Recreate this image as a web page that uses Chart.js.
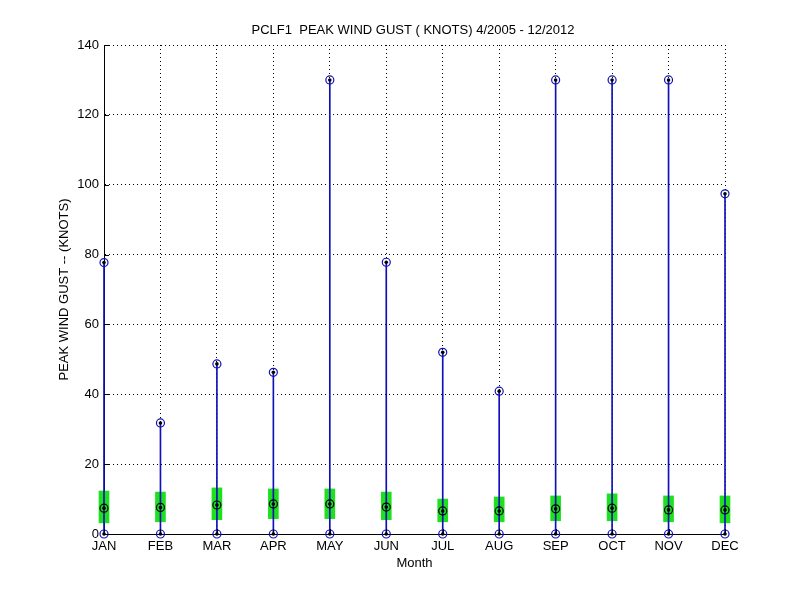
<!DOCTYPE html>
<html>
<head>
<meta charset="utf-8">
<script src="https://cdn.jsdelivr.net/npm/chart.js@4"></script>
<style>
  body { margin: 0; background: #fff; }
  #wrap { width: 800px; height: 600px; }
</style>
</head>
<body>
<div id="wrap"><canvas id="gust-chart" width="800" height="600"></canvas></div>
<script>
// monthly peak wind gust stats, knots
const months = ['JAN', 'FEB', 'MAR', 'APR', 'MAY', 'JUN', 'JUL', 'AUG', 'SEP', 'OCT', 'NOV', 'DEC']
const maxGust = [77.7, 31.8, 48.7, 46.3, 130, 77.8, 52.0, 40.9, 130, 130, 130, 97.4]
const minGust = [0, 0, 0, 0, 0, 0, 0, 0, 0, 0, 0, 0]
const meanGust = [7.4, 7.6, 8.3, 8.6, 8.6, 7.7, 6.6, 6.6, 7.2, 7.4, 6.9, 6.9]
const boxHigh = [12.3, 12.0, 13.2, 12.9, 12.9, 12.0, 10.0, 10.6, 10.9, 11.5, 10.9, 10.9]
const boxLow = [3.2, 3.5, 4.1, 4.4, 4.4, 4.1, 3.5, 3.5, 3.8, 3.8, 3.5, 3.2]
const yTicks = [0, 20, 40, 60, 80, 100, 120, 140]

const lineBlue = '#1010b8'
const boxGreen = '#1fe01f'

const boxData = months.map((m, i) => ({ x: i, y: [boxLow[i], boxHigh[i]] }))
const rangeData = months.map((m, i) => ({ x: i, y: [minGust[i], maxGust[i]] }))
const extremeData = []
months.forEach((m, i) => {
  extremeData.push({ x: i, y: minGust[i] })
  extremeData.push({ x: i, y: maxGust[i] })
})
const meanData = months.map((m, i) => ({ x: i, y: meanGust[i] }))
const dotData = extremeData.concat(meanData)

// matlab style inward tick marks on left and bottom axes
const inwardTicks = {
  id: 'inwardTicks',
  afterDraw(chart) {
    const { ctx, chartArea, scales } = chart
    ctx.save()
    ctx.strokeStyle = '#000'
    ctx.lineWidth = 1
    ctx.beginPath()
    yTicks.forEach(v => {
      const y = Math.round(scales.y.getPixelForValue(v)) + 0.5
      ctx.moveTo(chartArea.left, y)
      ctx.lineTo(chartArea.left + 5, y)
    })
    months.forEach((m, i) => {
      const x = Math.round(scales.x.getPixelForValue(i)) + 0.5
      ctx.moveTo(x, chartArea.bottom)
      ctx.lineTo(x, chartArea.bottom - 5)
    })
    ctx.stroke()
    ctx.restore()
  }
}

Chart.defaults.font.family = '"Liberation Sans", Arial, sans-serif'
Chart.defaults.font.size = 13
Chart.defaults.color = '#000'

const gustChart = new Chart(document.getElementById('gust-chart'), {
  type: 'bar',
  data: {
    datasets: [
      {
        type: 'scatter',
        data: dotData,
        pointStyle: 'circle',
        pointRadius: 1.8,
        pointBackgroundColor: '#000',
        pointBorderColor: '#000',
        pointBorderWidth: 0,
        clip: false,
        order: 0
      },
      {
        type: 'scatter',
        data: extremeData,
        pointStyle: 'circle',
        pointRadius: 4,
        pointBackgroundColor: 'rgba(0,0,0,0)',
        pointBorderColor: lineBlue,
        pointBorderWidth: 1.2,
        clip: false,
        order: 1
      },
      {
        type: 'scatter',
        data: meanData,
        pointStyle: 'circle',
        pointRadius: 4,
        pointBackgroundColor: 'rgba(0,0,0,0)',
        pointBorderColor: '#000',
        pointBorderWidth: 1.2,
        clip: false,
        order: 1
      },
      {
        type: 'bar',
        data: rangeData,
        backgroundColor: lineBlue,
        borderWidth: 0,
        barThickness: 1,
        grouped: false,
        clip: false,
        order: 2
      },
      {
        type: 'bar',
        data: boxData,
        backgroundColor: boxGreen,
        borderWidth: 0,
        barThickness: 10,
        grouped: false,
        clip: false,
        order: 3
      }
    ]
  },
  options: {
    responsive: false,
    animation: false,
    devicePixelRatio: 1,
    layout: {
      padding: { left: 26, right: 0, top: 0, bottom: 0 }
    },
    plugins: {
      legend: { display: false },
      tooltip: { enabled: false },
      title: {
        display: true,
        text: 'PCLF1  PEAK WIND GUST ( KNOTS) 4/2005 - 12/2012',
        color: '#000',
        font: { size: 13, weight: 'normal' },
        padding: { top: 22.7, bottom: 6.7 }
      }
    },
    scales: {
      x: {
        type: 'linear',
        position: 'bottom',
        min: 0,
        max: 11,
        offset: false,
        grid: { offset: false, color: '#000', lineWidth: 1, drawTicks: false },
        border: { display: true, color: '#000', width: 1, dash: [1, 3] },
        ticks: {
          stepSize: 1,
          padding: 5,
          autoSkip: false,
          maxRotation: 0,
          callback: v => months[v]
        },
        title: {
          display: true,
          text: 'Month',
          font: { size: 13 },
          padding: { top: 0, bottom: 29 }
        },
        afterFit: scale => { scale.height = 66 }
      },
      y: {
        type: 'linear',
        position: 'left',
        min: 0,
        max: 140,
        grid: { color: '#000', lineWidth: 1, drawTicks: false },
        border: { display: true, color: '#000', width: 1, dash: [1, 3] },
        ticks: {
          stepSize: 20,
          padding: 5
        },
        title: {
          display: true,
          text: 'PEAK WIND GUST -- (KNOTS)',
          font: { size: 13 },
          padding: { top: 31, bottom: 0 }
        },
        afterFit: scale => { scale.width = 78 }
      },
      // empty right axis, only reserves the margin so the title centres on the plot
      yRight: {
        type: 'linear',
        position: 'right',
        display: true,
        grid: { display: false },
        border: { display: false },
        ticks: { display: false },
        afterFit: scale => { scale.width = 75 }
      }
    }
  },
  plugins: [inwardTicks]
})
</script>
</body>
</html>
